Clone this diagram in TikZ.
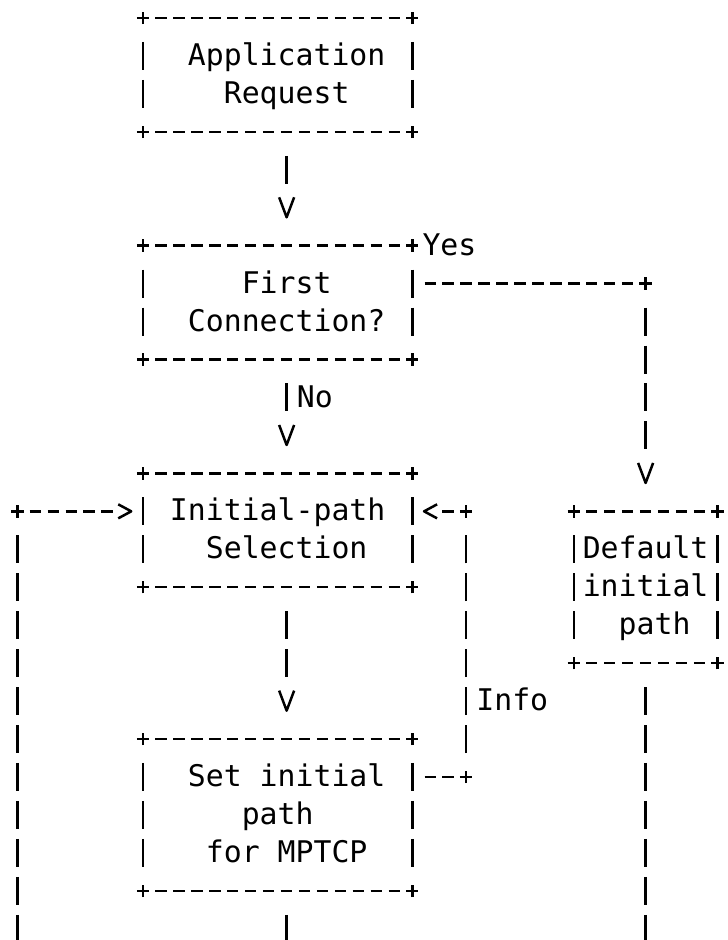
\documentclass[tikz,border=0pt]{standalone}
\usepackage{fontspec}
\usetikzlibrary{arrows.meta}
\newfontfamily\monofam{DejaVu Sans Mono}
\newcommand\asciifont{\monofam\fontsize{14.91pt}{18.975pt}\selectfont}
\newcommand\rs{\rule[-4.6pt]{0pt}{18.8pt}}
\newcommand\pad{\hphantom{0}}

% open V head, the shaft stops short of its open end
\pgfdeclarearrow{
  name = Chevron,
  parameters = {\the\pgfarrowlength,\the\pgfarrowwidth},
  setup code = {
    \pgfarrowssettipend{0pt}
    \pgfarrowssetlineend{-1.3\pgfarrowlength}
    \pgfarrowssetbackend{-\pgfarrowlength}
    \pgfarrowssavethe\pgfarrowlength
    \pgfarrowssavethe\pgfarrowwidth
  },
  drawing code = {
    \pgfsetdash{}{0pt}
    \pgfsetroundjoin
    \pgfpathmoveto{\pgfqpoint{-\pgfarrowlength}{.5\pgfarrowwidth}}
    \pgfpathlineto{\pgfpointorigin}
    \pgfpathlineto{\pgfqpoint{-\pgfarrowlength}{-.5\pgfarrowwidth}}
    \pgfusepathqstroke
  },
  defaults = {length=10pt, width=7.5pt}
}

\tikzset{
  hline/.style = {line width=1.25pt, dash pattern=on 5.7pt off 3.275pt, dash phase=2.85pt},
  hout/.style = {hline, dash phase=0pt, shorten <=6.125pt},
  vline/.style = {line width=1.25pt, dash pattern=on 14pt off 4.975pt, shorten <=11.975pt},
  vbar/.style = {vline, shorten >=11.975pt},
  downtip/.style = {-{Chevron[length=10pt,width=7.5pt]}, shorten >=14.2pt},
  sidetip/.style = {-{Chevron[length=6.5pt,width=7pt]}, shorten >=5.9pt},
  plus/.pic = {\draw[line width=1.25pt] (-3.1pt,0) -- (3.1pt,0) (0,-3.1pt) -- (0,3.1pt);},
  box/.style = {inner sep=0pt, outer sep=0pt, align=center, font=\asciifont},
  wide/.style = {box, minimum width=134.625pt, minimum height=56.925pt},
  tall/.style = {minimum height=75.9pt},
  lbl/.style = {inner sep=0pt, font=\asciifont, text height=14.2pt, text depth=4.6pt, anchor=west, xshift=4.4875pt}
}

\begin{document}
\begin{tikzpicture}[x=8.975pt, y=-18.975pt]
  \useasboundingbox (-0.469,0.026) rectangle (40.088,24.796);

  % boxes
  \node[wide] (app) at (15,2) {\rs\pad Application\\\rs\pad Request};
  \node[wide] (first) at (15,8) {\rs\pad First\\\rs\pad Connection?};
  \node[wide] (sel) at (15,14) {\rs Initial-path\\\rs\pad Selection};
  \node[wide, tall] (setp) at (15,21.5) {\rs\pad Set initial\\\rs path\\\rs\pad for MPTCP};
  \node[box, tall, minimum width=71.8pt] (dflt) at (35.5,15.5) {\rs Default\\\rs initial\\\rs\pad path};

  \foreach \b in {app,first,sel,setp,dflt} {
    \draw[hline] (\b.north west) -- (\b.north east);
    \draw[hline] (\b.south west) -- (\b.south east);
    \draw[vbar] (\b.north west) -- (\b.south west);
    \draw[vbar] (\b.north east) -- (\b.south east);
    \foreach \c in {north west,north east,south west,south east}
      \pic at (\b.\c) {plus};
  }

  % corners and loose ends
  \coordinate (ycorner) at (35.5,7.5);
  \coordinate (ilow) at (25.5,20.5);
  \coordinate (ihigh) at (25.5,13.5);
  \coordinate (lcorner) at (0.5,13.5);
  \coordinate (lend) at (0.5,25.5);
  \coordinate (mend) at (15.5,25.5);
  \coordinate (rend) at (35.5,25.5);
  \foreach \p in {ycorner,ilow,ihigh,lcorner}
    \pic at (\p) {plus};

  % connectors
  \draw[vline, downtip] ([xshift=4.4875pt]app.south) -- ([xshift=4.4875pt]first.north);
  \draw[vline, downtip] ([xshift=4.4875pt]first.south) -- node[lbl, pos=0.3333] {No} ([xshift=4.4875pt]sel.north);
  \draw[hout] ([yshift=9.4875pt]first.east) -- node[lbl, at start, yshift=18.975pt] {Yes} (ycorner);
  \draw[vline, downtip] (ycorner) -- (dflt.north);
  \draw[vline, downtip] ([xshift=4.4875pt]sel.south) -- ([xshift=4.4875pt]setp.north);
  \draw[hout] ([yshift=18.975pt]setp.east) -- (ilow);
  \draw[vbar] (ilow) -- node[lbl, pos=0.2857] {Info} (ihigh);
  \draw[hline, sidetip] (ihigh) -- ([yshift=9.4875pt]sel.east);
  \draw[vline] (lcorner) -- (lend);
  \draw[hline, sidetip] (lcorner) -- ([yshift=9.4875pt]sel.west);
  \draw[vline] ([xshift=4.4875pt]setp.south) -- (mend);
  \draw[vline] (dflt.south) -- (rend);
\end{tikzpicture}
\end{document}
